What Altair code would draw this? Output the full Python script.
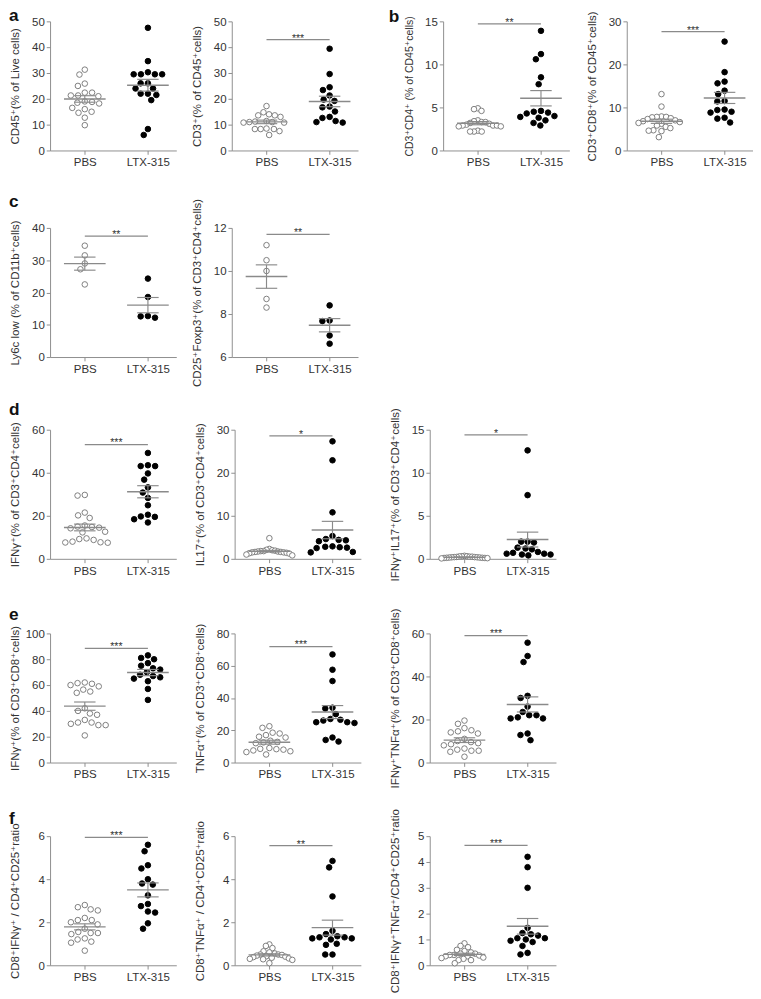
import altair as alt
import pandas as pd

GROUPS = ["PBS", "LTX-315"]

# ---- values ----
a1_pbs = [31.3, 29.4, 25.9, 25.0, 22.4, 22.4, 21.3, 21.0, 21.3, 19.0, 18.8, 18.2, 18.5, 16.5, 16.0, 14.6, 15.0, 12.7, 9.8]
a1_ltx = [47.5, 34.6, 30.3, 29.5, 29.5, 29.5, 29.5, 26.0, 26.0, 24.0, 24.0, 22.0, 22.0, 21.5, 19.5, 8.3, 6.0]
a2_pbs = [17.2, 14.8, 14.0, 13.6, 13.6, 13.0, 11.4, 11.2, 11.0, 11.0, 10.8, 10.8, 8.5, 8.3, 8.3, 8.3, 7.5, 6.0]
a2_ltx = [39.4, 29.6, 24.5, 23.4, 21.3, 19.7, 19.2, 17.0, 16.7, 15.1, 13.0, 12.6, 11.4, 11.0, 10.8]
b1_pbs = [4.9, 4.8, 4.6, 3.5, 3.4, 3.3, 3.3, 3.2, 3.1, 3.0, 2.9, 2.9, 2.9, 2.8, 2.8, 2.3, 2.2, 2.2, 2.2]
b1_ltx = [13.9, 11.2, 10.6, 8.5, 7.7, 4.6, 4.5, 4.4, 4.3, 4.0, 3.9, 3.8, 3.5, 3.2, 2.9]
b2_pbs = [13.1, 10.2, 7.9, 7.8, 7.8, 7.7, 7.5, 7.3, 7.0, 6.8, 6.6, 6.4, 6.2, 5.8, 5.5, 5.2, 4.7, 4.6, 4.5, 3.1]
b2_ltx = [25.3, 18.2, 16.0, 15.6, 13.9, 13.1, 11.5, 11.4, 9.5, 9.4, 9.0, 8.8, 7.6, 7.4, 6.5]
c1_pbs = [34.5, 31.5, 29.0, 27.2, 22.5]
c1_ltx = [24.3, 18.6, 12.7, 12.2, 12.6]
c2_pbs = [11.2, 10.5, 10.0, 8.7, 8.3]
c2_ltx = [8.4, 7.67, 7.7, 7.0, 6.62]
d1_pbs = [29.4, 29.7, 21.5, 20.2, 19.0, 15.5, 15.0, 14.8, 14.5, 14.2, 12.6, 12.3, 9.5, 8.8, 8.0, 7.6, 7.5, 7.7, 9.2]
d1_ltx = [49.2, 43.5, 43.1, 43.1, 39.7, 36.8, 33.2, 30.8, 28.3, 24.9, 20.5, 19.7, 19.5, 18.4, 16.9]
d2_pbs = [4.8, 2.3, 2.1, 2.0, 1.9, 1.8, 1.8, 1.7, 1.7, 1.6, 1.6, 1.5, 1.5, 1.4, 1.3, 1.2, 1.0, 0.8]
d2_ltx = [27.3, 22.9, 10.8, 5.3, 4.6, 4.4, 4.3, 4.1, 2.9, 2.8, 2.7, 2.6, 2.5, 1.6, 1.5]
d3_pbs = [0.35, 0.3, 0.3, 0.28, 0.25, 0.25, 0.22, 0.2, 0.2, 0.18, 0.18, 0.15, 0.15, 0.12, 0.12, 0.1, 0.1, 0.08, 0.05]
d3_ltx = [12.6, 7.4, 2.0, 2.0, 1.9, 1.3, 1.2, 1.1, 0.8, 0.7, 0.6, 0.5, 0.5, 0.4, 0.6]
e1_pbs = [62, 61.5, 61, 60, 59, 56.5, 55, 54, 42, 40, 38, 37, 33, 31, 31, 30, 29, 29, 21]
e1_ltx = [83, 81, 80, 77, 75, 73, 72, 70, 68, 67, 66, 65, 63, 57, 48.5]
e2_pbs = [22.5, 21.5, 18.5, 18, 17, 16, 15.5, 13.5, 12.8, 12.5, 12, 9, 8.5, 8.3, 8, 7.5, 7, 6.5, 5]
e2_ltx = [67, 57.5, 50.5, 34, 33.5, 30, 27, 26.5, 26, 25, 25, 24.5, 15.5, 14, 13]
e3_pbs = [19.5, 18, 16, 15, 14.5, 14, 13.5, 11, 10, 9.5, 9, 8.5, 8, 6.5, 6, 5.5, 5.5, 5, 2.7]
e3_ltx = [55.7, 49.5, 46.7, 31, 30, 26, 23.5, 22, 22, 21, 20.5, 20.5, 13.5, 12.8, 10.4]
f1_pbs = [2.8, 2.7, 2.6, 2.55, 2.2, 2.1, 2.1, 2.0, 1.9, 1.7, 1.55, 1.5, 1.5, 1.45, 1.25, 1.2, 1.1, 1.05, 0.68]
f1_ltx = [5.6, 5.3, 4.65, 4.5, 4.0, 3.8, 3.75, 3.25, 2.85, 2.75, 2.5, 2.45, 1.95, 1.7]
f2_pbs = [0.97, 0.9, 0.8, 0.65, 0.6, 0.55, 0.5, 0.5, 0.48, 0.45, 0.42, 0.4, 0.38, 0.35, 0.32, 0.3, 0.28, 0.25, 0.1]
f2_ltx = [4.85, 4.55, 3.2, 1.6, 1.45, 1.3, 1.3, 1.25, 1.2, 1.25, 1.35, 1.0, 0.95, 0.5, 0.5]
f3_pbs = [0.85, 0.75, 0.7, 0.6, 0.55, 0.5, 0.45, 0.45, 0.4, 0.4, 0.38, 0.35, 0.35, 0.3, 0.28, 0.25, 0.2, 0.2, 0.08]
f3_ltx = [4.2, 3.8, 3.0, 1.45, 1.25, 1.2, 1.15, 1.05, 1.05, 1.0, 0.95, 0.9, 0.75, 0.48, 0.42]

titles = {
    "a1": "CD45⁺(% of Live cells)",
    "a2": "CD3⁺(% of CD45⁺cells)",
    "b1": "CD3⁺CD4⁺ (% of CD45⁺cells)",
    "b2": "CD3⁺CD8⁺(% of CD45⁺cells)",
    "c1": "Ly6c low (% of CD11b⁺cells)",
    "c2": "CD25⁺Foxp3⁺(% of CD3⁺CD4⁺cells)",
    "d1": "IFNγ⁺(% of CD3⁺CD4⁺cells)",
    "d2": "IL17⁺(% of CD3⁺CD4⁺cells)",
    "d3": "IFNγ⁺IL17⁺(% of CD3⁺CD4⁺cells)",
    "e1": "IFNγ⁺(% of CD3⁺CD8⁺cells)",
    "e2": "TNFα⁺(% of CD3⁺CD8⁺cells)",
    "e3": "IFNγ⁺TNFα⁺(% of CD3⁺CD8⁺cells)",
    "f1": "CD8⁺IFNγ⁺ / CD4⁺CD25⁺ratio",
    "f2": "CD8⁺TNFα⁺ / CD4⁺CD25⁺ratio",
    "f3": "CD8⁺IFNγ⁺TNFα⁺/CD4⁺CD25⁺ratio",
}
ticks = {
    "a1": [0, 10, 20, 30, 40, 50], "a2": [0, 10, 20, 30, 40, 50],
    "b1": [0, 5, 10, 15], "b2": [0, 10, 20, 30],
    "c1": [0, 10, 20, 30, 40], "c2": [6, 8, 10, 12],
    "d1": [0, 20, 40, 60], "d2": [0, 10, 20, 30], "d3": [0, 5, 10, 15],
    "e1": [0, 20, 40, 60, 80, 100], "e2": [0, 20, 40, 60, 80], "e3": [0, 20, 40, 60],
    "f1": [0, 2, 4, 6], "f2": [0, 2, 4, 6], "f3": [0, 1, 2, 3, 4, 5],
}
sig_y = {"a2": 42.9, "b1": 14.7, "b2": 27.6, "c1": 37.5, "c2": 11.7, "d1": 53.1,
         "d2": 28.6, "d3": 14.4, "e1": 88.4, "e2": 71.9, "e3": 59.0, "f1": 5.95,
         "f2": 5.56, "f3": 4.64}
sig_txt = {"a2": "***", "b1": "**", "b2": "***", "c1": "**", "c2": "**", "d1": "***",
           "d2": "*", "d3": "*", "e1": "***", "e2": "***", "e3": "***", "f1": "***",
           "f2": "**", "f3": "***"}
values = {
    "a1": (a1_pbs, a1_ltx), "a2": (a2_pbs, a2_ltx), "b1": (b1_pbs, b1_ltx), "b2": (b2_pbs, b2_ltx),
    "c1": (c1_pbs, c1_ltx), "c2": (c2_pbs, c2_ltx),
    "d1": (d1_pbs, d1_ltx), "d2": (d2_pbs, d2_ltx), "d3": (d3_pbs, d3_ltx),
    "e1": (e1_pbs, e1_ltx), "e2": (e2_pbs, e2_ltx), "e3": (e3_pbs, e3_ltx),
    "f1": (f1_pbs, f1_ltx), "f2": (f2_pbs, f2_ltx), "f3": (f3_pbs, f3_ltx),
}
title_size = {"b1": 11}

FONT = "Liberation Sans, Arial, DejaVu Sans, sans-serif"
TXT = "#333333"
LINE = "#8a8a8a"
W, H = 132, 135
XDOM = [-0.55, 1.45]
PX_PER_UNIT = W / (XDOM[1] - XDOM[0])


def swarm(vals, lo, hi, d=7.6, limit=24.0):
    """Simple beeswarm layout: horizontal offsets (in x units) computed from the values."""
    ys = [(hi - v) / (hi - lo) * H for v in vals]
    order = sorted(range(len(vals)), key=lambda i: ys[i])
    placed, offs = [], [0.0] * len(vals)
    for i in order:
        y = ys[i]
        cands = [0.0]
        for px, py in placed:
            dy = abs(py - y)
            if dy < d:
                dx = (d * d - dy * dy) ** 0.5
                cands += [px + dx, px - dx]
        cands.sort(key=lambda c: (abs(c), c))
        chosen = cands[-1]
        for c in cands:
            if all((c - px) ** 2 + (y - py) ** 2 >= d * d - 1e-6 for px, py in placed):
                chosen = c
                break
        placed.append((chosen, y))
        offs[i] = chosen
    m = max(abs(o) for o in offs) if offs else 0
    if m > limit:
        offs = [o * limit / m for o in offs]
    return [o / PX_PER_UNIT for o in offs]


def panel(key):
    pbs, ltx = values[key]
    tk = ticks[key]
    lo, hi = tk[0], tk[-1]
    rows = []
    for gi, (g, vals) in enumerate(zip(GROUPS, (pbs, ltx))):
        for v, o in zip(vals, swarm(vals, lo, hi)):
            rows.append({"g": g, "gi": gi, "v": v, "off": o})
    df = pd.DataFrame(rows)
    xs = alt.Scale(domain=XDOM, nice=False, zero=False)
    ys = alt.Scale(domain=[lo, hi], nice=False, zero=False)
    xaxis = alt.Axis(values=[0, 1], labelExpr="datum.value == 0 ? 'PBS' : 'LTX-315'",
                     title=None, grid=False, tickSize=4, labelPadding=3,
                     labelFlush=False, labelOverlap=False)
    yaxis = alt.Axis(values=tk, title=titles[key], grid=False, tickSize=4, labelPadding=2,
                     minExtent=22, maxExtent=22, titlePadding=8, labelFlush=False,
                     labelOverlap=False, titleFontSize=title_size.get(key, 12))

    def X(f):
        return alt.X(f, type="quantitative", scale=xs, axis=xaxis)

    def Y(f):
        return alt.Y(f, type="quantitative", scale=ys, axis=yaxis)

    base = alt.Chart(df)
    pts = base.mark_point(shape="circle", size=34, strokeWidth=1, opacity=1).transform_calculate(
        xpos="datum.gi + datum.off"
    ).encode(
        x=X("xpos"),
        y=Y("v"),
        fill=alt.Fill("g:N", scale=alt.Scale(domain=GROUPS, range=["white", "black"]), legend=None),
        stroke=alt.Stroke("g:N", scale=alt.Scale(domain=GROUPS, range=["#7a7a7a", "black"]), legend=None),
    )
    stats = base.transform_aggregate(
        m="mean(v)", se="stderr(v)", gi="min(gi)", groupby=["g"]
    ).transform_calculate(
        lo="datum.m - datum.se", hi="datum.m + datum.se",
        xl="datum.gi - 0.33", xr="datum.gi + 0.33",
        sl="datum.gi - 0.17", sr="datum.gi + 0.17",
    )
    mean_r = stats.mark_rule(color=LINE, strokeWidth=1.5).encode(x=X("xl"), x2="xr:Q", y=Y("m"))
    hi_r = stats.mark_rule(color=LINE, strokeWidth=1.2).encode(x=X("sl"), x2="sr:Q", y=Y("hi"))
    lo_r = stats.mark_rule(color=LINE, strokeWidth=1.2).encode(x=X("sl"), x2="sr:Q", y=Y("lo"))
    v_r = stats.mark_rule(color=LINE, strokeWidth=1.2).encode(x=X("gi"), y=Y("lo"), y2="hi:Q")
    layers = [pts, mean_r, hi_r, lo_r, v_r]
    if key in sig_y:
        sdf = pd.DataFrame({"x0": [0], "x1": [1], "xm": [0.5], "y": [sig_y[key]], "t": [sig_txt[key]]})
        sb = alt.Chart(sdf)
        layers.append(sb.mark_rule(color=LINE, strokeWidth=1.3).encode(x=X("x0"), x2="x1:Q", y=Y("y")))
        layers.append(sb.mark_text(fontSize=11, font=FONT, color=TXT, baseline="alphabetic", dy=2).encode(
            x=X("xm"), y=Y("y"), text="t:N"))
    return alt.layer(*layers).properties(width=W, height=H)


def letter(t, off, dx=0):
    return alt.TitleParams(text=t, anchor="start", fontSize=18, fontWeight="bold",
                           font=FONT, color="#111111", offset=off, dx=dx)


row_ab = alt.hconcat(
    alt.hconcat(panel("a1"), panel("a2"), spacing=14, title=letter("a", -10)),
    alt.hconcat(panel("b1"), panel("b2"), spacing=16, title=letter("b", -15.5, -16)),
    spacing=31,
)
row_c = alt.hconcat(panel("c1"), panel("c2"), spacing=14, title=letter("c", -13))
row_d = alt.hconcat(alt.hconcat(panel("d1"), panel("d2"), spacing=17), panel("d3"), spacing=28,
                    title=letter("d", -12))
row_e = alt.hconcat(alt.hconcat(panel("e1"), panel("e2"), spacing=17), panel("e3"), spacing=28,
                    title=letter("e", -17))
row_f = alt.hconcat(alt.hconcat(panel("f1"), panel("f2"), spacing=17), panel("f3"), spacing=28,
                    title=letter("f", -20))

col = alt.vconcat(row_ab, row_c, spacing=27)
col = alt.vconcat(col, row_d, spacing=15)
col = alt.vconcat(col, row_e, spacing=26)
col = alt.vconcat(col, row_f, spacing=21)

chart = col.properties(
    padding={"left": 0, "top": -23, "right": 0, "bottom": 0}
).configure_view(stroke=None).configure_axis(
    domainColor=LINE, tickColor=LINE, labelColor=TXT, titleColor=TXT,
    labelFont=FONT, titleFont=FONT, labelFontSize=12, titleFontSize=12,
    titleFontWeight="normal",
).configure_title(font=FONT)

chart.save("out.html", embed_options={"renderer": "svg", "actions": False})
